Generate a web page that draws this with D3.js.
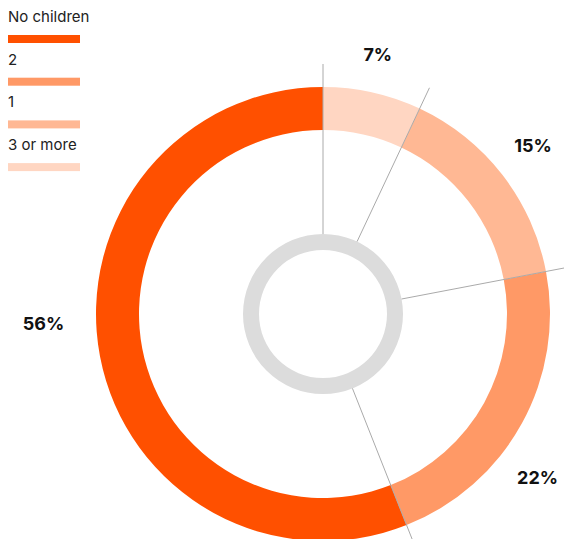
<!DOCTYPE html>
<html lang="en">
<head>
<meta charset="UTF-8" />
<title>Children</title>
<script src="https://cdn.jsdelivr.net/npm/d3@7"></script>
<style>
  body { margin: 0; background: #fff; }
  text { font-family: Inter, "Noto Sans", sans-serif; }
</style>
</head>
<body>
<svg id="chart" width="564" height="539"></svg>
<script>
var categories = ["No children", "2", "1", "3 or more"];
var values = [56, 22, 15, 7];
var colors = ["#ff5000", "#ff9966", "#ffb894", "#ffd6c2"];
var valueLabels = ["56%", "22%", "15%", "7%"];

var width = 564, height = 539;
var cx = 323, cy = 314;
var outerR = 227, innerR = 184;
var hubOuter = 80, hubInner = 64;
var lineOuter = 250;
var labelGap = 259;
var labelSize = 18, capH = 13;
// small angle nudges (degrees) so labels sit where the original has them
var labelNudge = { "No children": 8.8, "2": 8.5, "1": -1, "3 or more": -0.7 };

var svg = d3.select("#chart");

var data = categories.map(function (c, i) {
  return { cat: c, value: values[i], color: colors[i], label: valueLabels[i] };
});

var pie = d3.pie()
  .sort(function (a, b) { return d3.ascending(a.value, b.value); })
  .value(function (d) { return d.value; });

var arcs = pie(data);

var arc = d3.arc().innerRadius(innerR).outerRadius(outerR);

var g = svg.append("g").attr("transform", "translate(" + cx + "," + cy + ")");

g.selectAll("path.slice")
  .data(arcs)
  .enter()
  .append("path")
  .attr("class", "slice")
  .attr("d", arc)
  .attr("fill", function (d) { return d.data.color; });

// inner grey ring
g.append("path")
  .attr("d", d3.arc().innerRadius(hubInner).outerRadius(hubOuter).startAngle(0).endAngle(2 * Math.PI)())
  .attr("fill", "#dcdcdc");

// leader lines on slice boundaries
g.selectAll("line.lead")
  .data(arcs)
  .enter()
  .append("line")
  .attr("class", "lead")
  .attr("x1", function (d) { return hubOuter * Math.sin(d.startAngle); })
  .attr("y1", function (d) { return -hubOuter * Math.cos(d.startAngle); })
  .attr("x2", function (d) { return lineOuter * Math.sin(d.startAngle); })
  .attr("y2", function (d) { return -lineOuter * Math.cos(d.startAngle); })
  .attr("stroke", "#aaaaaa")
  .attr("stroke-width", 1);

// value labels
var lbl = g.selectAll("text.val")
  .data(arcs)
  .enter()
  .append("text")
  .attr("class", "val")
  .attr("text-anchor", "middle")
  .style("font-size", labelSize + "px")
  .style("font-weight", 700)
  .attr("fill", "#111")
  .text(function (d) { return d.data.label; });

lbl.each(function (d) {
  var el = d3.select(this);
  var w = this.getBBox().width;
  var hw = w / 2, hh = capH / 2;
  var a = (d.startAngle + d.endAngle) / 2 + labelNudge[d.data.cat] * Math.PI / 180;
  var ux = Math.sin(a), uy = -Math.cos(a);
  var t = Math.min(hw / Math.max(Math.abs(ux), 1e-6), hh / Math.max(Math.abs(uy), 1e-6));
  var r = labelGap + t;
  el.attr("x", r * ux).attr("y", r * uy + hh);
});

// legend
var legend = svg.append("g").attr("transform", "translate(8,0)");
var step = 42.7;

legend.selectAll("text")
  .data(data)
  .enter()
  .append("text")
  .attr("x", 0)
  .attr("y", function (d, i) { return 22 + i * step; })
  .style("font-size", "15px")
  .attr("fill", "#222")
  .text(function (d) { return d.cat; });

legend.selectAll("rect")
  .data(data)
  .enter()
  .append("rect")
  .attr("x", 0)
  .attr("y", function (d, i) { return 35 + i * step; })
  .attr("width", 72)
  .attr("height", 8)
  .attr("fill", function (d) { return d.color; });
</script>
</body>
</html>
